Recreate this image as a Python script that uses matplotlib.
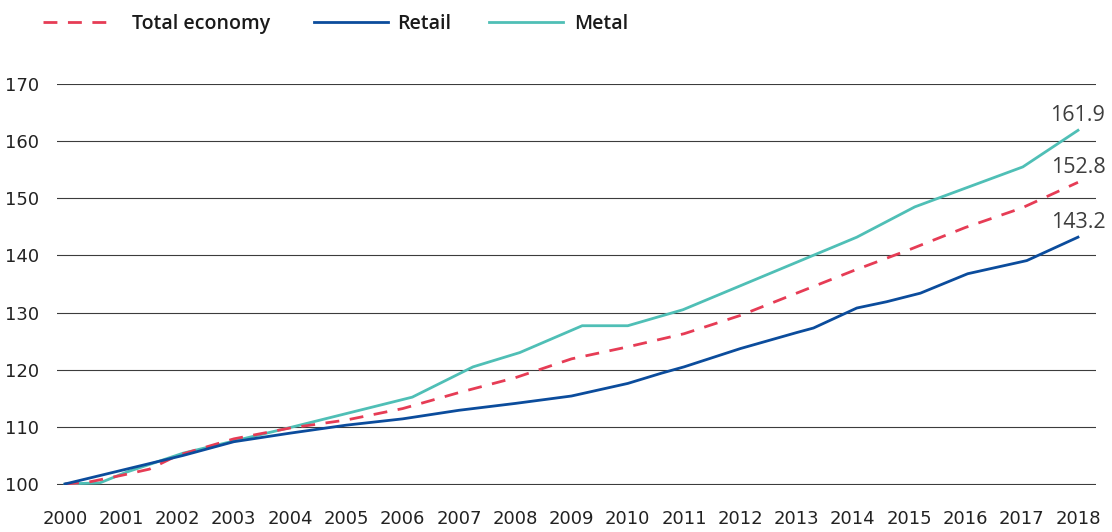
import matplotlib
matplotlib.use("Agg")
import matplotlib.pyplot as plt

# index values, 2000 = 100
years_total = [2000, 2000.4, 2001, 2001.5, 2002, 2003, 2004, 2005, 2006, 2007, 2008,
               2009, 2010, 2011, 2012, 2013, 2014, 2015, 2016, 2017, 2018]
total = [100, 100.3, 101.5, 102.6, 105, 107.9, 109.8, 111.2, 113.2, 116.0, 118.6,
         121.9, 124.0, 126.3, 129.5, 133.4, 137.3, 141.0, 144.9, 148.3, 152.8]

years_retail = [2000, 2002.1, 2003, 2004, 2005, 2006, 2007, 2008, 2009, 2010,
                2010.6, 2011, 2012, 2013, 2013.3, 2014.07, 2014.6, 2015.2, 2016.04,
                2017.09, 2018]
retail = [100, 105, 107.4, 108.9, 110.3, 111.4, 112.9, 114.1, 115.4, 117.6,
          119.4, 120.5, 123.7, 126.5, 127.3, 130.8, 131.9, 133.4, 136.8,
          139.1, 143.2]

years_metal = [2000, 2000.62, 2001.1, 2002.1, 2004.05, 2006.17, 2007.25, 2008.08,
               2009.19, 2010.0, 2010.98, 2014.07, 2015.1, 2017.02, 2018]
metal = [100, 100.2, 102.1, 105.4, 110, 115.2, 120.5, 123, 127.7, 127.7,
         130.5, 143.2, 148.5, 155.5, 161.9]

yticks = [100, 110, 120, 130, 140, 150, 160, 170]
xticks = list(range(2000, 2019))

red = "#e63c55"
blue = "#0b4c9c"
teal = "#4fbfb6"

fig = plt.figure(figsize=(11.12, 5.32), dpi=100)
ax = fig.add_axes([0.0513, 0.0881, 0.9343, 0.7539])

l_tot, = ax.plot(years_total, total, color=red, lw=2.0, dashes=(5, 3.8), label="Total economy", zorder=3)
l_ret, = ax.plot(years_retail, retail, color=blue, lw=2.0, label="Retail", zorder=4)
l_met, = ax.plot(years_metal, metal, color=teal, lw=2.0, label="Metal", zorder=2)

for ys, vals in [(years_metal, metal), (years_total, total), (years_retail, retail)]:
    ax.annotate(f"{vals[-1]:.1f}", (ys[-1], vals[-1]), xytext=(0, 3),
                textcoords="offset points", ha="center", va="bottom",
                fontsize=15.5, color="#3d3d3d", family=["Open Sans", "DejaVu Sans"])

ax.set_xlim(1999.858, 2018.32)
ax.set_ylim(99.8, 170)
ax.set_yticks(yticks)
ax.set_xticks(xticks)
ax.grid(axis="y", color="#3c3c3c", lw=0.8)
ax.set_axisbelow(True)
for s in ax.spines.values():
    s.set_visible(False)
ax.tick_params(length=0, labelsize=13, labelcolor="#222222")
ax.tick_params(axis="x", pad=18)
ax.tick_params(axis="y", pad=13)

# one legend per series so the spacing can differ between entries
legend_font = {"family": ["Open Sans", "DejaVu Sans"], "weight": "semibold", "size": 14}
for handle, x0, hlen, hpad in [(l_tot, 43, 3.4, 1.2), (l_ret, 314, 3.8, 0.45),
                               (l_met, 489, 3.8, 0.6)]:
    lg = fig.legend(handles=[handle], loc="center left",
                    bbox_to_anchor=(x0 / 1112, 0.955), frameon=False,
                    borderpad=0, borderaxespad=0, handlelength=hlen,
                    handletextpad=hpad, prop=legend_font)
    lg.get_texts()[0].set_color("#1a1a1a")

fig.savefig("out.png", dpi=100)
